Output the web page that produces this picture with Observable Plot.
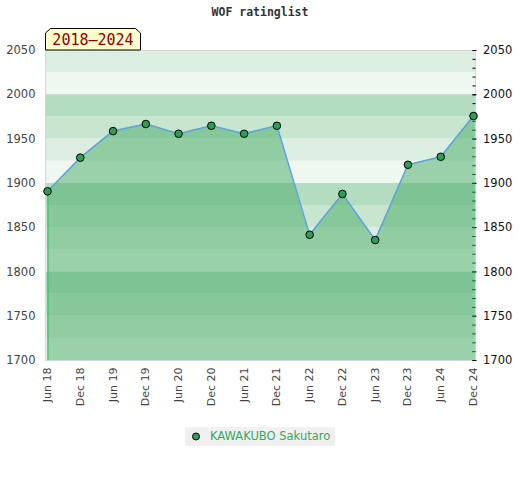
<!DOCTYPE html>
<html>
<head>
<meta charset="utf-8">
<script src="https://cdn.jsdelivr.net/npm/d3@7"></script>
<script src="https://cdn.jsdelivr.net/npm/@observablehq/plot@0.6"></script>
<style>
  body { margin: 0; background: #fff; }
  #wrap { position: relative; width: 520px; height: 480px; font-family: "DejaVu Sans", sans-serif; }
  #title { position: absolute; left: 0; top: 5px; width: 520px; text-align: center; font: bold 11.5px "DejaVu Sans Mono", monospace; color: #333; }
  #badge { position: absolute; left: 0; top: 0; }
  #legend { position: absolute; left: 185px; top: 427px; width: 150px; height: 19px; background: #f0f0f0; }
  #legend svg { position: absolute; left: 0; top: 0; }
  #legend span { position: absolute; left: 25px; top: 2px; font: 11.5px "DejaVu Sans", sans-serif; color: #3aa660; white-space: nowrap; }
</style>
</head>
<body>
<div id="wrap">
  <div id="chart"></div>
  <div id="title">WOF ratinglist</div>
  <svg id="badge" width="160" height="60">
    <polygon points="45.5,50 45.5,33 50.5,28.5 135.5,28.5 140.5,33 140.5,50" fill="#ffffcc" stroke="#000" stroke-width="1"/>
    <text x="93" y="45" text-anchor="middle" font-family="DejaVu Sans Mono, monospace" font-size="15" fill="#8b0000">2018–2024</text>
  </svg>
  <div id="legend">
    <svg width="25" height="19"><circle cx="11" cy="9.5" r="3.5" fill="#2e9e57" stroke="#000" stroke-width="1"/></svg>
    <span>KAWAKUBO Sakutaro</span>
  </div>
</div>
<script>
const periods = ["Jun 18","Dec 18","Jun 19","Dec 19","Jun 20","Dec 20","Jun 21","Dec 21","Jun 22","Dec 22","Jun 23","Dec 23","Jun 24","Dec 24"];
const ratings = [1891, 1929, 1959, 1967, 1956, 1965, 1956, 1965, 1842, 1888, 1836, 1921, 1930, 1976];
const yTicks = [1700, 1750, 1800, 1850, 1900, 1950, 2000, 2050];
const yDomain = [1700, 2050];

const bandShades = ["#b3dcc0", "#c8e5d0", "#dcede1", "#eff7f1"];
const bands = d3.range(yDomain[0], yDomain[1], 25).map(y1 => ({
  y1, y2: y1 + 25, fill: bandShades[3 - ((y1 / 25) % 4)]
}));
const minorTicks = d3.range(yDomain[0], yDomain[1] + 1, 10);

const data = periods.map((p, i) => ({ period: p, rating: ratings[i] }));
const ends = [data[0], data[data.length - 1]];

const chart = Plot.plot({
  width: 520,
  height: 410,
  marginTop: 50,
  marginBottom: 50,
  marginLeft: 45,
  marginRight: 45,
  style: { fontFamily: "DejaVu Sans, sans-serif", fontSize: "11px", background: "transparent" },
  x: { type: "point", domain: periods, padding: 0, round: false, insetLeft: 2, insetRight: 2, label: null },
  y: { domain: yDomain, label: null },
  marks: [
    Plot.rect(bands, { y1: "y1", y2: "y2", fill: "fill" }),
    Plot.ruleY([2000], { stroke: "#d2d2d2" }),
    Plot.areaY(data, { x: "period", y1: yDomain[0], y2: "rating", fill: "rgb(69,171,101)", fillOpacity: 0.5 }),
    Plot.frame({ stroke: "#d6d6d6" }),
    Plot.axisX({ tickRotate: -90, tickSize: 0, tickPadding: 7, fill: "#444", fontSize: 11, label: null }),
    Plot.axisY({ anchor: "left", ticks: yTicks, tickFormat: "d", tickSize: 0, tickPadding: 10, fill: "#444", fontSize: 11.5, label: null }),
    Plot.axisY({ anchor: "right", ticks: minorTicks, tickSize: -3, text: null, stroke: "#000", dx: -0.5, label: null }),
    Plot.axisY({ anchor: "right", ticks: yTicks, tickFormat: "d", tickSize: -4, tickPadding: 11, fill: "#111", fontSize: 11.5, stroke: "#000", dx: 0.5, label: null }),
    Plot.ruleX(ends, { x: "period", y1: yDomain[0], y2: "rating", stroke: "#2ec05e", strokeWidth: 1, dx: 0.5 }),
    Plot.line(data, { x: "period", y: "rating", stroke: "#5fa3dc", strokeWidth: 1.5 }),
    Plot.dot(data, { x: "period", y: "rating", r: 3.8, fill: "#2e9e57", stroke: "#000", strokeWidth: 1 })
  ]
});
document.getElementById("chart").appendChild(chart);
</script>
</body>
</html>
